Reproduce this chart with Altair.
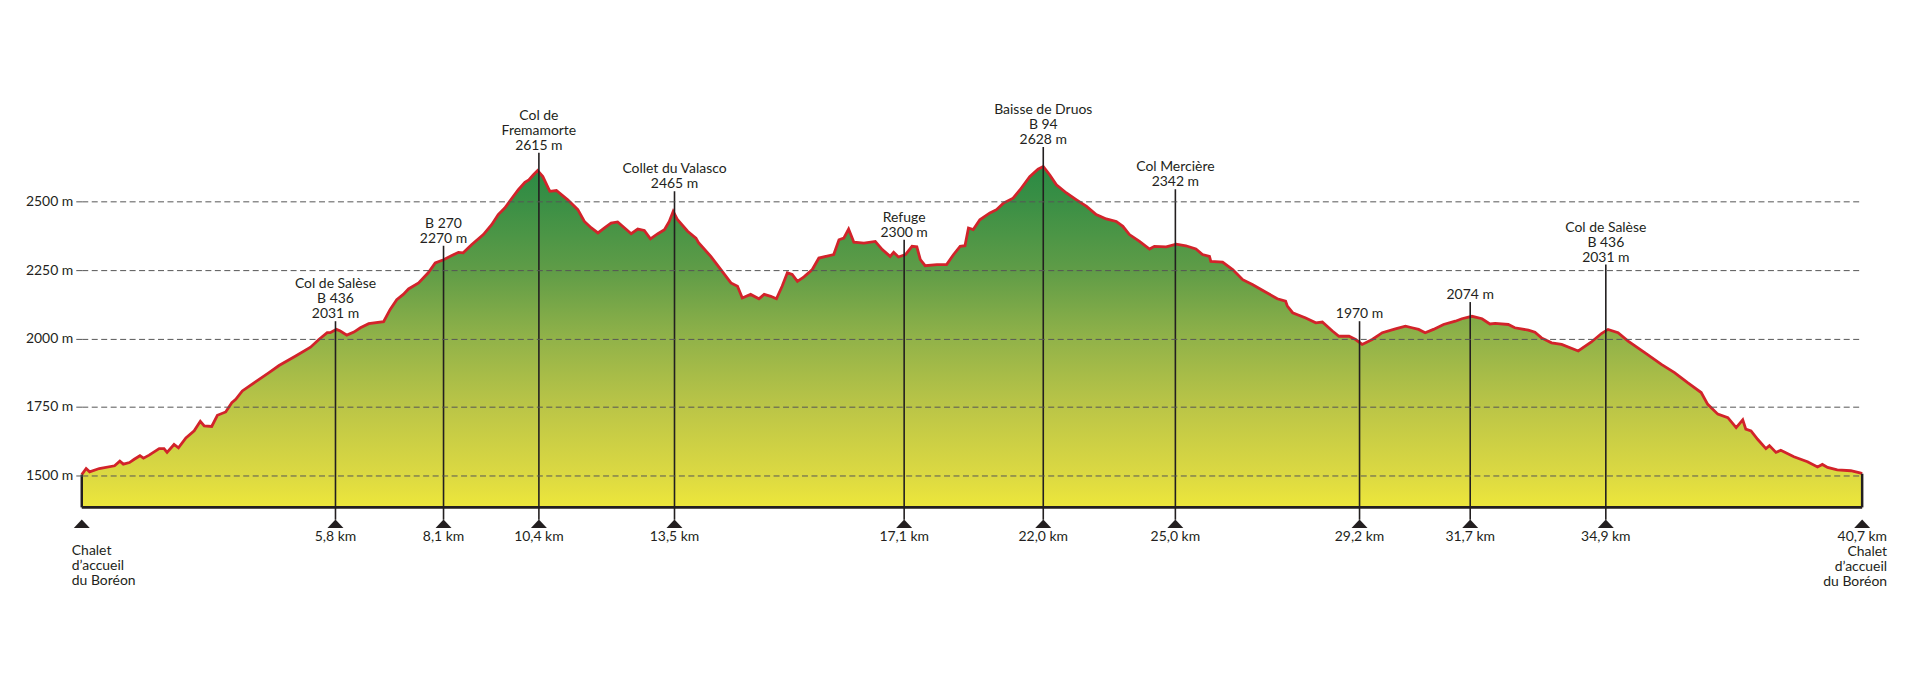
import altair as alt
import pandas as pd

# ---- elevation profile (distance in km, elevation in m)
km = [0.00, 0.10, 0.18, 0.40, 0.75, 0.87, 0.95, 1.09, 1.20, 1.33, 1.41, 1.54, 1.77, 1.88, 1.95,
      2.11, 2.21, 2.38, 2.57, 2.71, 2.80, 2.97, 3.10, 3.29, 3.43, 3.52, 3.67, 3.97, 4.28, 4.51,
      4.89, 5.23, 5.42, 5.61, 5.68, 5.82, 5.91, 6.06, 6.22, 6.37, 6.56, 6.90, 7.05, 7.20, 7.35,
      7.47, 7.70, 7.92, 8.08, 8.27, 8.46, 8.61, 8.72, 8.91, 9.18, 9.37, 9.52, 9.67, 9.82, 9.98,
      10.13, 10.22, 10.32, 10.42, 10.54, 10.70, 10.85, 11.11,
      11.34, 11.49, 11.65, 11.80, 11.95, 12.10, 12.25, 12.41, 12.56, 12.71, 12.86, 13.00, 13.17,
      13.32, 13.43, 13.52, 13.62, 13.85, 14.04, 14.10, 14.38, 14.61, 14.84, 14.99, 15.10, 15.29,
      15.48, 15.60, 15.75, 15.88, 16.01, 16.13, 16.24, 16.36, 16.51, 16.70, 16.85, 17.19, 17.31,
      17.42, 17.53, 17.65, 17.88, 18.14, 18.30, 18.48, 18.56, 18.67, 18.83, 18.98, 19.09, 19.17,
      19.28, 19.55, 19.77, 19.93, 20.08, 20.19, 20.27, 20.38, 20.53, 20.76, 20.91, 21.07, 21.29,
      21.45, 21.67, 21.86, 21.98, 22.13, 22.28, 22.51, 22.74,
      22.97, 23.19, 23.42, 23.65, 23.80, 23.95, 24.18, 24.41, 24.52, 24.79, 25.02, 25.24, 25.47,
      25.62, 25.78, 25.81, 26.08, 26.31, 26.54, 26.76, 27.07, 27.33, 27.52, 27.56, 27.68, 27.98,
      28.21, 28.36, 28.59, 28.74, 28.97, 29.12, 29.27, 29.50, 29.73, 30.03, 30.26, 30.41, 30.56,
      30.71, 30.90, 31.13, 31.40, 31.55, 31.78, 32.01, 32.19,
      32.31, 32.61, 32.76, 33.07, 33.22, 33.37, 33.60, 33.83, 34.21, 34.51, 34.74, 34.89, 35.12,
      35.35, 35.73, 36.11, 36.41, 36.71, 37.02, 37.17, 37.40, 37.63, 37.82, 37.97, 38.04, 38.16,
      38.31, 38.50, 38.58, 38.73, 38.84, 39.14, 39.45, 39.68, 39.79, 39.91, 40.13, 40.44, 40.67,
      40.70]
elev = [1502, 1524, 1512, 1524, 1534, 1551, 1540, 1546, 1558, 1571, 1562, 1573, 1597, 1597, 1583,
        1612, 1600, 1636, 1662, 1697, 1680, 1678, 1719, 1731, 1765, 1777, 1808, 1841, 1875, 1901,
        1936, 1968, 1996, 2021, 2021, 2033, 2027, 2012, 2023, 2039, 2054, 2061, 2106, 2142, 2161,
        2181, 2203, 2240, 2276, 2288, 2303, 2315, 2313, 2343, 2380, 2416, 2453, 2477, 2510, 2544,
        2571, 2580, 2598, 2614, 2592, 2538, 2541, 2507,
        2471, 2428, 2404, 2386, 2404, 2422, 2426, 2404, 2383, 2400, 2395, 2364, 2383,
        2398, 2428, 2465, 2434, 2392, 2367, 2350, 2300, 2252, 2203, 2191, 2148, 2161,
        2145, 2161, 2154, 2145, 2191, 2240, 2234, 2209, 2225, 2252, 2294, 2307, 2361,
        2367, 2400, 2352, 2349, 2355, 2325, 2300, 2315, 2298, 2307, 2337, 2335, 2288,
        2266, 2270, 2270, 2307, 2337, 2339, 2404, 2398, 2434, 2459, 2471, 2495, 2513,
        2544, 2592, 2619, 2629, 2598, 2562, 2532, 2507,
        2483, 2453, 2437, 2428, 2410, 2380, 2355, 2327, 2337, 2335, 2345, 2339, 2327,
        2307, 2300, 2282, 2279, 2252, 2215, 2197, 2169, 2145, 2136, 2118, 2094, 2075,
        2057, 2060, 2027, 2008, 2008, 1996, 1978, 1996, 2021, 2035, 2045, 2039, 2033,
        2021, 2033, 2051, 2063, 2072, 2081, 2072, 2053,
        2055, 2051, 2039, 2030, 2023, 2002, 1984, 1978, 1954, 1987, 2018, 2033, 2021,
        1990, 1948, 1905, 1875, 1838, 1802, 1759, 1723, 1710, 1674, 1702, 1668, 1662,
        1631, 1597, 1608, 1583, 1591, 1567, 1549, 1530, 1539, 1528, 1519, 1516, 1507,
        1505]

# ---- waypoints
marker_pos = [5.8, 8.27, 10.45, 13.55, 18.8, 21.98, 25.0, 29.21, 31.74, 34.84]
marker_top = [2063, 2339, 2679, 2538, 2361, 2700, 2546, 2063, 2133, 2270]
marker_name = ["Col de Salèse\nB 436\n2031 m", "B 270\n2270 m", "Col de\nFremamorte\n2615 m",
               "Collet du Valasco\n2465 m", "Refuge\n2300 m", "Baisse de Druos\nB 94\n2628 m",
               "Col Mercière\n2342 m", "1970 m", "2074 m", "Col de Salèse\nB 436\n2031 m"]
marker_km = ["5,8 km", "8,1 km", "10,4 km", "13,5 km", "17,1 km", "22,0 km", "25,0 km",
             "29,2 km", "31,7 km", "34,9 km"]
end_pos = [0.0, 40.7]
end_text = ["Chalet\nd’accueil\ndu Boréon", "40,7 km\nChalet\nd’accueil\ndu Boréon"]
y_ticks = [1500, 1750, 2000, 2250, 2500]

BASE = 1382
TOP = 2950
FONT = "Lato"
INK = "#231f20"
LH = 15

profile = pd.DataFrame({"km": km, "elev": elev})
profile["base"] = BASE

def nth_from_last(s, n):
    parts = s.split("\n")
    return parts[-1 - n] if len(parts) > n else ""

markers = pd.DataFrame({"pos": marker_pos, "top": marker_top, "kml": marker_km})
markers["r0"] = [nth_from_last(s, 0) for s in marker_name]
markers["r1"] = [nth_from_last(s, 1) for s in marker_name]
markers["r2"] = [nth_from_last(s, 2) for s in marker_name]
markers["base"] = BASE
tri = pd.DataFrame({"pos": [end_pos[0]] + marker_pos + [end_pos[1]]})
tri["base"] = BASE
edges = pd.DataFrame({"pos": end_pos, "top": [elev[0], elev[-1]]})
edges["base"] = BASE
left_lab = pd.DataFrame({"pos": [end_pos[0]], "t": [end_text[0]]})
left_lab["base"] = BASE
right_lab = pd.DataFrame({"pos": [end_pos[1]], "t": [end_text[1]]})
right_lab["base"] = BASE
baseline_df = pd.DataFrame({"a": [end_pos[0]], "b": [end_pos[1]], "base": [BASE]})

xs = alt.Scale(domain=[0, 40.7], nice=False, zero=False)
ys = alt.Scale(domain=[BASE, TOP], nice=False, zero=False)
yax = alt.Axis(
    values=y_ticks, labelExpr="datum.value + ' m'", grid=True,
    gridDash=[6, 3.5], gridColor="#555555", gridWidth=1,
    tickDash=[6, 3.5], tickSize=6, tickColor="#555555", tickWidth=1,
    domain=False, labelFont=FONT, labelFontSize=14, labelColor=INK,
    labelPadding=3, title=None, zindex=1)


def X(f):
    return alt.X(f, scale=xs, axis=None)


def Y(f):
    return alt.Y(f, scale=ys, axis=yax)


grad = alt.Gradient(
    gradient="linear", x1=0, x2=0, y1=1, y2=0,
    stops=[
        alt.GradientStop(color="#ede73b", offset=0.0),
        alt.GradientStop(color="#dcd942", offset=0.095),
        alt.GradientStop(color="#bbc547", offset=0.295),
        alt.GradientStop(color="#91b249", offset=0.496),
        alt.GradientStop(color="#5f9c47", offset=0.696),
        alt.GradientStop(color="#3a8f45", offset=0.897),
        alt.GradientStop(color="#2a8a44", offset=1.0),
    ],
)

area = alt.Chart(profile).mark_area(color=grad, interpolate="linear").encode(
    x=X("km:Q"), y=Y("elev:Q"), y2="base:Q",
)

line = alt.Chart(profile).mark_line(color="#d2232a", strokeWidth=2.8).encode(
    x=X("km:Q"), y=Y("elev:Q"),
)

edge_rules = alt.Chart(edges).mark_rule(color=INK, strokeWidth=2.5).encode(
    x=X("pos:Q"), y=Y("top:Q"), y2="base:Q",
)

base_rule = alt.Chart(baseline_df).mark_rule(color=INK, strokeWidth=3).encode(
    x=X("a:Q"), x2="b:Q", y=Y("base:Q"),
)

m_rules = alt.Chart(markers).mark_rule(color=INK, strokeWidth=1.6, y2Offset=12.4).encode(
    x=X("pos:Q"), y=Y("top:Q"), y2="base:Q",
)

tris = alt.Chart(tri).mark_point(
    shape="M-1,0.53L1,0.53L0,-0.53Z", filled=True, size=256, color=INK,
    opacity=1, strokeWidth=0, yOffset=16.5,
).encode(x=X("pos:Q"), y=Y("base:Q"))

name_layers = [
    alt.Chart(markers).mark_text(
        font=FONT, fontSize=14, color=INK, align="center", baseline="bottom", dy=-LH * i,
    ).encode(x=X("pos:Q"), y=Y("top:Q"), text=f"r{i}:N")
    for i in range(3)
]

kms = alt.Chart(markers).mark_text(
    font=FONT, fontSize=14, color=INK, align="center", baseline="middle", dy=30,
).encode(x=X("pos:Q"), y=Y("base:Q"), text="kml:N")

left_txt = alt.Chart(left_lab).mark_text(
    font=FONT, fontSize=14, lineHeight=LH, color=INK, align="left", baseline="top",
    lineBreak="\n", dx=-10, dy=37,
).encode(x=X("pos:Q"), y=Y("base:Q"), text="t:N")

right_txt = alt.Chart(right_lab).mark_text(
    font=FONT, fontSize=14, lineHeight=LH, color=INK, align="right", baseline="top",
    lineBreak="\n", dx=25, dy=23,
).encode(x=X("pos:Q"), y=Y("base:Q"), text="t:N")

chart = alt.layer(
    area, line, edge_rules, base_rule, m_rules, tris, *name_layers, kms, left_txt, right_txt
).properties(
    width=1786, height=430,
    autosize=alt.AutoSizeParams(type="none"),
    padding={"left": 74, "top": 70, "right": 50, "bottom": 100},
).configure(background="white").configure_view(stroke=None)

chart.save("out.html", embed_options={"renderer": "svg", "actions": False})
